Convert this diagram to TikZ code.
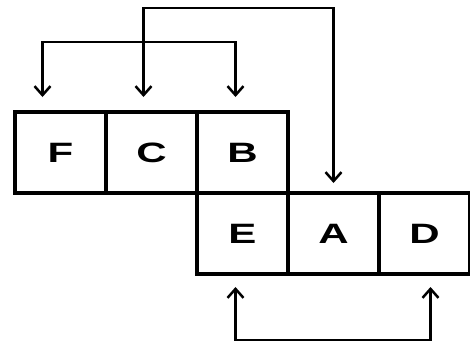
\documentclass[tikz,border=0pt]{standalone}
\usepackage{fontspec}
\setmainfont{Liberation Sans}
\usetikzlibrary{positioning,arrows.meta}
\newcommand{\cell}[1]{\scalebox{1.5}[1]{\bfseries #1}}
\begin{document}
\begin{tikzpicture}[x=1pt,y=-1pt,
  cellbox/.style={draw,line width=3.5pt,minimum width=91pt,minimum height=81pt,
    inner sep=0pt,outer sep=0pt,font=\fontsize{28}{28}\selectfont},
  swap/.style={line width=2.5pt,{Straight Barb[length=9pt,width=16pt]}-{Straight Barb[length=9pt,width=16pt]}},
  node distance=0pt]
\useasboundingbox (0,0) rectangle (470,348);

% the two rows of cells
\node[cellbox] (F) at (60.5,152.5) {\cell{F}};
\node[cellbox,right=of F] (C) {\cell{C}};
\node[cellbox,right=of C] (B) {\cell{B}};
\node[cellbox,below=of B] (E) {\cell{E}};
\node[cellbox,right=of E] (A) {\cell{A}};
\node[cellbox,right=of A] (D) {\cell{D}};

% heights of the exchange lines
\coordinate (lowbar) at (0,42);
\coordinate (highbar) at (0,8);
\coordinate (basebar) at (0,340);

% exchanges
\draw[swap] ([xshift=-18pt,yshift=15pt]F.north) -- ([xshift=-18pt]F.north |- lowbar)
  -| ([xshift=-7pt,yshift=15pt]B.north);
\draw[swap] ([xshift=-8pt,yshift=15pt]C.north) -- ([xshift=-8pt]C.north |- highbar)
  -| ([yshift=10pt]A.north);
\draw[swap] ([xshift=-7pt,yshift=-13pt]E.south) -- ([xshift=-7pt]E.south |- basebar)
  -| ([xshift=6pt,yshift=-13pt]D.south);

\end{tikzpicture}
\end{document}
